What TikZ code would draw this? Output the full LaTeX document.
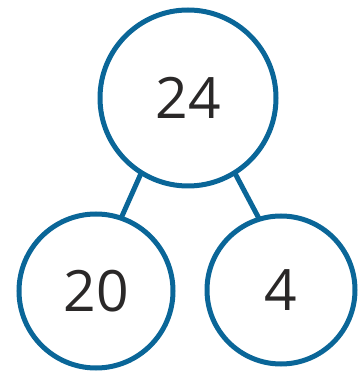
\documentclass[tikz,border=0pt]{standalone}
\usepackage{fontspec}
\setmainfont{Open Sans}
\definecolor{ringblue}{RGB}{10,102,152}
\definecolor{numtext}{RGB}{42,40,40}
\begin{document}
\begin{tikzpicture}[x=1pt,y=1pt,
  ring/.style={circle,draw=ringblue,line width=5pt,inner sep=0pt,outer sep=0pt,
    text=numtext,font=\fontsize{57}{60}\selectfont},
  link/.style={draw=ringblue,line width=5pt}]
\useasboundingbox (0,0) rectangle (357,372);
\node[ring,minimum size=176pt] (top) at (188,274) {24};
\node[ring,minimum size=154pt] (left) at (96,81) {20};
\node[ring,minimum size=148pt] (right) at (281,82) {4};
\draw[link] (top.238) -- (left.71);
\draw[link] (top.302) -- (right.107);
\end{tikzpicture}
\end{document}
